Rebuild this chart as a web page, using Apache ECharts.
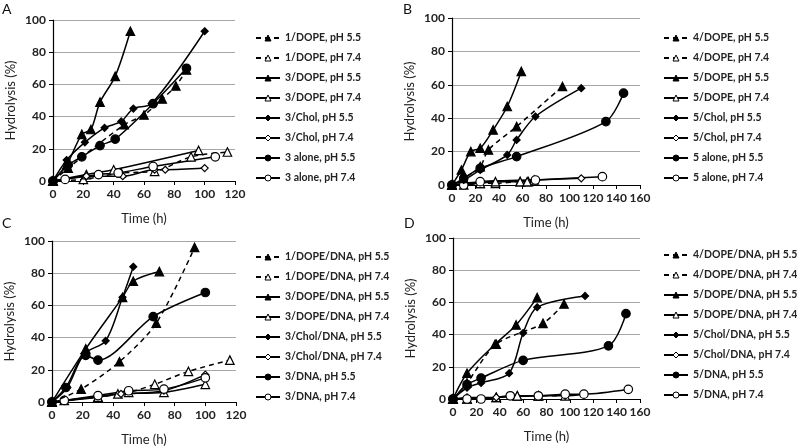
<!DOCTYPE html>
<html>
<head>
<meta charset="utf-8">
<script src="https://cdn.jsdelivr.net/npm/echarts@6/dist/echarts.min.js"></script>
<style>
  html, body { margin: 0; padding: 0; background: #fff; }
  #chart { width: 800px; height: 448px; }
</style>
</head>
<body>
<div id="chart"></div>
<script>
// ===== data: [time (h), hydrolysis (%)] =====
// panel A
const aLip1Dope55 = [[0,0],[10,8],[47,35],[60,41],[72,51],[81,59],[88,69]];
const aLip1Dope74 = [[0,0],[20,1],[45,5],[67,6],[91,15],[115,18]];
const aLip3Dope55 = [[0,0],[9,10],[19,29],[25,32],[31,49],[41,65],[51,93]];
const aLip3Dope74 = [[0,0],[22,4],[40,7],[96,19]];
const aLip3Chol55 = [[0,0],[9,13],[21,24],[34,33],[45,37],[53,45],[65,48],[100,93]];
const aLip3Chol74 = [[0,0],[8,1],[22,3],[46,3],[67,7],[74,7],[100,8]];
const aLip3Alone55 = [[0,0],[10,10],[19,15],[31,22],[41,26],[66,48],[88,70]];
const aLip3Alone74 = [[0,0],[8,1],[30,4],[43,5],[66,9],[107,15]];
// panel B
const bLip4Dope55 = [[0,0],[10,4],[24,11],[31,21],[55,35],[94,59]];
const bLip4Dope74 = [[0,0],[10,0],[24,1],[37,1],[58,2],[65,2],[70,3]];
const bLip5Dope55 = [[0,0],[8,9],[16,20],[24,22],[35,33],[47,47],[59,68]];
const bLip5Dope74 = [[0,0],[24,1],[37,2],[58,2],[64,2]];
const bLip5Chol55 = [[0,0],[10,3],[24,9],[47,18],[55,27],[71,41],[110,58]];
const bLip5Chol74 = [[0,0],[24,2],[70,3],[110,4]];
const bLip5Alone55 = [[0,0],[10,4],[24,10],[55,17],[131,38],[146,55]];
const bLip5Alone74 = [[0,0],[10,0],[24,2],[71,3],[128,5]];
// panel C
const cLip1DopeDna55 = [[0,0],[19,8],[44,25],[68,49],[93,96]];
const cLip1DopeDna74 = [[0,0],[8,1],[30,3],[50,6],[67,11],[89,19],[116,26]];
const cLip3DopeDna55 = [[0,0],[22,33],[46,65],[53,75],[70,81]];
const cLip3DopeDna74 = [[0,0],[30,3],[43,5],[73,6],[100,11]];
const cLip3CholDna55 = [[0,0],[10,9],[21,30],[35,38],[46,65],[53,84]];
const cLip3CholDna74 = [[0,0],[8,1],[45,5],[73,7],[100,17]];
const cLip3Dna55 = [[0,0],[9,9],[22,29],[30,26],[66,53],[100,68]];
const cLip3Dna74 = [[0,0],[8,1],[30,4],[50,7],[73,8],[100,15]];
// panel D
const dLip4DopeDna55 = [[0,0],[12,10],[37,34],[77,47],[95,59]];
const dLip4DopeDna74 = [[0,0],[12,0],[37,1],[55,2],[73,2],[96,2]];
const dLip5DopeDna55 = [[0,0],[12,16],[36,34],[54,46],[72,63]];
const dLip5DopeDna74 = [[0,0],[12,0],[37,1],[55,2],[73,2]];
const dLip5CholDna55 = [[0,0],[12,7],[24,10],[48,16],[60,41],[72,57],[113,64]];
const dLip5CholDna74 = [[0,0],[12,1],[37,1],[73,2],[96,2],[112,3]];
const dLip5Dna55 = [[0,0],[12,9],[24,13],[60,24],[133,33],[148,53]];
const dLip5Dna74 = [[0,0],[12,0],[24,0],[49,2],[73,2],[96,3],[112,3],[150,6]];

// axis ticks
const xMaxAC = 120, xMaxBD = 160, yMax = 100, tickStep = 20;

// panel entries: name, data, marker, filled, dashed
const panels = [
  [
    ['1/DOPE, pH 5.5', aLip1Dope55, 'triangle', true, true],
    ['1/DOPE, pH 7.4', aLip1Dope74, 'triangle', false, true],
    ['3/DOPE, pH 5.5', aLip3Dope55, 'triangle', true, false],
    ['3/DOPE, pH 7.4', aLip3Dope74, 'triangle', false, false],
    ['3/Chol, pH 5.5', aLip3Chol55, 'diamond', true, false],
    ['3/Chol, pH 7.4', aLip3Chol74, 'diamond', false, false],
    ['3 alone, pH 5.5', aLip3Alone55, 'circle', true, false],
    ['3 alone, pH 7.4', aLip3Alone74, 'circle', false, false]
  ],
  [
    ['4/DOPE, pH 5.5', bLip4Dope55, 'triangle', true, true],
    ['4/DOPE, pH 7.4', bLip4Dope74, 'triangle', false, true],
    ['5/DOPE, pH 5.5', bLip5Dope55, 'triangle', true, false],
    ['5/DOPE, pH 7.4', bLip5Dope74, 'triangle', false, false],
    ['5/Chol, pH 5.5', bLip5Chol55, 'diamond', true, false],
    ['5/Chol, pH 7.4', bLip5Chol74, 'diamond', false, false],
    ['5 alone, pH 5.5', bLip5Alone55, 'circle', true, false],
    ['5 alone, pH 7.4', bLip5Alone74, 'circle', false, false]
  ],
  [
    ['1/DOPE/DNA, pH 5.5', cLip1DopeDna55, 'triangle', true, true],
    ['1/DOPE/DNA, pH 7.4', cLip1DopeDna74, 'triangle', false, true],
    ['3/DOPE/DNA, pH 5.5', cLip3DopeDna55, 'triangle', true, false],
    ['3/DOPE/DNA, pH 7.4', cLip3DopeDna74, 'triangle', false, false],
    ['3/Chol/DNA, pH 5.5', cLip3CholDna55, 'diamond', true, false],
    ['3/Chol/DNA, pH 7.4', cLip3CholDna74, 'diamond', false, false],
    ['3/DNA, pH 5.5', cLip3Dna55, 'circle', true, false],
    ['3/DNA, pH 7.4', cLip3Dna74, 'circle', false, false]
  ],
  [
    ['4/DOPE/DNA, pH 5.5', dLip4DopeDna55, 'triangle', true, true],
    ['4/DOPE/DNA, pH 7.4', dLip4DopeDna74, 'triangle', false, true],
    ['5/DOPE/DNA, pH 5.5', dLip5DopeDna55, 'triangle', true, false],
    ['5/DOPE/DNA, pH 7.4', dLip5DopeDna74, 'triangle', false, false],
    ['5/Chol/DNA, pH 5.5', dLip5CholDna55, 'diamond', true, false],
    ['5/Chol/DNA, pH 7.4', dLip5CholDna74, 'diamond', false, false],
    ['5/DNA, pH 5.5', dLip5Dna55, 'circle', true, false],
    ['5/DNA, pH 7.4', dLip5Dna74, 'circle', false, false]
  ]
];

const FONT = 'Lato, "Liberation Sans", sans-serif';

// layout of each panel
const grids = [
  { left: 53, top: 20, width: 182, height: 161 },
  { left: 452, top: 18, width: 188, height: 167 },
  { left: 52, top: 241, width: 184, height: 161 },
  { left: 453, top: 238, width: 187, height: 161 }
];
const legendPos = [
  { left: 250, top: 26 },
  { left: 658, top: 26 },
  { left: 250, top: 245 },
  { left: 658, top: 243 }
];
const letters = [['A', 2, 2], ['B', 403, 2], ['C', 2, 216], ['D', 404, 216]];

const symSize = { triangle: 8.5, diamond: 7, circle: 8.5 };

const xAxes = grids.map((g, i) => ({
  type: 'value',
  gridIndex: i,
  min: 0,
  max: (i % 2 === 0) ? xMaxAC : xMaxBD,
  interval: tickStep,
  name: 'Time (h)',
  nameLocation: 'middle',
  nameGap: 31,
  nameTextStyle: { fontFamily: FONT, fontSize: 13, color: '#222' },
  axisLine: { lineStyle: { color: '#000', width: 1.2 } },
  axisTick: { show: true, length: 4, lineStyle: { color: '#000' } },
  axisLabel: { fontFamily: FONT, fontSize: 12, fontWeight: 'bold', color: '#222', margin: 7 },
  splitLine: { show: false }
}));

const yAxes = grids.map((g, i) => ({
  type: 'value',
  gridIndex: i,
  min: 0,
  max: yMax,
  interval: tickStep,
  name: 'Hydrolysis (%)',
  nameLocation: 'middle',
  nameGap: 36,
  nameTextStyle: { fontFamily: FONT, fontSize: 13, color: '#222' },
  axisLine: { show: true, lineStyle: { color: '#000', width: 1.2 } },
  axisTick: { show: true, length: 4, lineStyle: { color: '#000' } },
  axisLabel: { fontFamily: FONT, fontSize: 12, fontWeight: 'bold', color: '#222', margin: 7 },
  splitLine: { show: true, lineStyle: { color: '#a6a6a6', width: 1 } }
}));

const series = [];
panels.forEach((list, pi) => {
  list.forEach(([name, data, sym, filled, dashed]) => {
    series.push({
      type: 'line',
      name: name,
      xAxisIndex: pi,
      yAxisIndex: pi,
      data: data,
      smooth: 0.3,
      symbol: sym,
      symbolSize: symSize[sym],
      showAllSymbol: true,
      lineStyle: { color: '#000', width: 1.5, type: dashed ? [5, 4] : 'solid' },
      itemStyle: { color: filled ? '#000' : '#fff', borderColor: '#000', borderWidth: 1.2 },
      emphasis: { disabled: true },
      z: filled ? 3 : 2
    });
  });
});

// legend key symbol follows itemHeight, so keep it small and space rows by lineHeight
const legends = panels.map((list, pi) => ({
  data: list.map(s => s[0]),
  orient: 'vertical',
  left: legendPos[pi].left,
  top: legendPos[pi].top,
  itemWidth: 24,
  itemHeight: 7.5,
  itemGap: 6,
  selectedMode: false,
  itemStyle: { borderWidth: 1 },
  textStyle: { fontFamily: FONT, fontSize: 10.5, fontWeight: 'bold', color: '#222', lineHeight: 14 }
}));

const chart = echarts.init(document.getElementById('chart'), null, { renderer: 'canvas' });
chart.setOption({
  animation: false,
  backgroundColor: '#fff',
  grid: grids,
  xAxis: xAxes,
  yAxis: yAxes,
  legend: legends,
  series: series,
  graphic: letters.map(([t, x, y]) => ({
    type: 'text',
    left: x,
    top: y,
    style: { text: t, fontFamily: FONT, fontSize: 14, fill: '#111' }
  }))
});
</script>
</body>
</html>
